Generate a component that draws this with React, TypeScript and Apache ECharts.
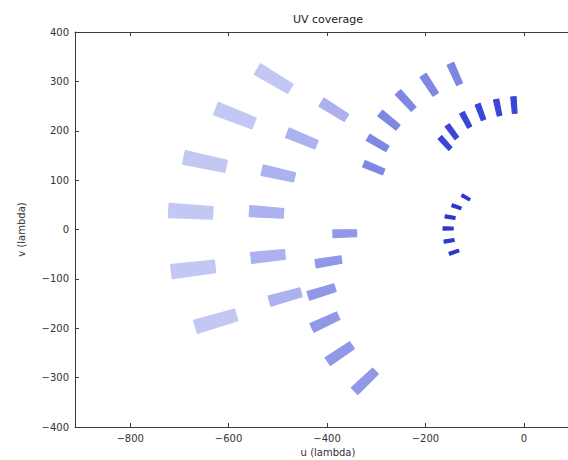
import React, { useEffect, useRef } from "react";
import * as echarts from "echarts";

// tick values
const xTicks = [-800, -600, -400, -200, 0];
const yTicks = [-400, -300, -200, -100, 0, 100, 200, 300, 400];

// patch centres [u, v] (lambda) for each baseline track
const track1 = [[-508, 305], [-587, 230], [-648, 137], [-677, 36], [-672, -80], [-626, -185]];
const track2 = [[-386, 242], [-451, 184], [-499, 113], [-523, 35], [-520, -54], [-485, -136]];
const track3 = [[-364, -8], [-397, -65], [-411, -126], [-404, -187], [-374, -251], [-323, -307]];
const track4 = [[-140, 315], [-192, 293], [-240, 261], [-274, 221], [-297, 175], [-305, 125]];
const track5 = [[-20, 252], [-53, 247], [-88, 238], [-118, 222], [-146, 198], [-160, 175]];
const track6 = [[-118, 65], [-137, 46], [-150, 25], [-154, 2], [-152, -23], [-142, -46]];

// fractional bandwidth (radial spread) and angular half width of each snapshot
const BANDWIDTH = 0.066;
const HALF_ANGLE = 0.02;

const tracks = [
  { data: track1, color: "#c3c7f4" },
  { data: track2, color: "#acb1f0" },
  { data: track3, color: "#9098e7" },
  { data: track4, color: "#7f87e3" },
  { data: track5, color: "#3a46d6" },
  { data: track6, color: "#2a38cc" },
];

const fmt = (v: number) => (v < 0 ? "\u2212" + Math.abs(v) : String(v));

export default function App() {
  const ref = useRef<HTMLDivElement>(null);
  useEffect(() => {
    if (!ref.current) return;
    const chart = echarts.init(ref.current, undefined, { renderer: "svg" });
    const font = "DejaVu Sans";
    const axisLine = { show: true, onZero: false, lineStyle: { color: "#3a3a3a", width: 1 } };
    const tick = (vals: number[]) => ({
      show: true,
      inside: true,
      length: 4,
      customValues: vals,
      lineStyle: { color: "#3a3a3a" },
    });
    const renderItem = (params: any, api: any) => {
      const u = api.value(0);
      const v = api.value(1);
      const r = Math.hypot(u, v);
      const th = Math.atan2(v, u);
      const corners = [
        [1 - BANDWIDTH, -HALF_ANGLE],
        [1 + BANDWIDTH, -HALF_ANGLE],
        [1 + BANDWIDTH, HALF_ANGLE],
        [1 - BANDWIDTH, HALF_ANGLE],
      ];
      const points = corners.map(([rf, dt]) =>
        api.coord([r * rf * Math.cos(th + dt), r * rf * Math.sin(th + dt)])
      );
      const color = api.visual("color");
      return {
        type: "polygon",
        shape: { points },
        style: { fill: color, stroke: color, lineWidth: 1.2, lineJoin: "round" },
      };
    };
    chart.setOption({
      animation: false,
      backgroundColor: "#ffffff",
      textStyle: { fontFamily: font },
      graphic: [
        {
          type: "text",
          x: 328,
          y: 19,
          style: {
            text: "UV coverage",
            fontFamily: font,
            fontSize: 11,
            fill: "#222",
            textAlign: "center",
            textVerticalAlign: "middle",
          },
        },
      ],
      grid: {
        left: 75,
        top: 32,
        width: 506,
        height: 395,
        containLabel: false,
        outerBoundsMode: "none",
      },
      xAxis: [
        {
          type: "value",
          min: -912,
          max: 116,
          position: "bottom",
          axisLine,
          axisTick: tick(xTicks),
          axisLabel: {
            customValues: xTicks,
            formatter: fmt,
            color: "#333",
            fontSize: 10,
            margin: 6,
            fontFamily: font,
          },
          splitLine: { show: false },
          name: "u (lambda)",
          nameLocation: "middle",
          nameGap: 19,
          nameTextStyle: { color: "#333", fontSize: 10, fontFamily: font },
        },
        {
          type: "value",
          min: -912,
          max: 116,
          position: "top",
          axisLine,
          axisTick: tick(xTicks),
          axisLabel: { show: false },
          splitLine: { show: false },
        },
      ],
      yAxis: [
        {
          type: "value",
          min: -400,
          max: 400,
          interval: 100,
          position: "left",
          axisLine,
          axisTick: tick(yTicks),
          axisLabel: {
            customValues: yTicks,
            formatter: fmt,
            color: "#333",
            fontSize: 10,
            margin: 6,
            fontFamily: font,
          },
          splitLine: { show: false },
          name: "v (lambda)",
          nameLocation: "middle",
          nameGap: 49,
          nameTextStyle: { color: "#333", fontSize: 10, fontFamily: font },
        },
      ],
      series: tracks.map((t) => ({
        type: "custom",
        xAxisIndex: 0,
        yAxisIndex: 0,
        data: t.data,
        itemStyle: { color: t.color },
        encode: { x: 0, y: 1 },
        renderItem,
        clip: false,
      })),
    });
    return () => chart.dispose();
  }, []);
  return (
    <div
      ref={ref}
      style={{ position: "fixed", left: 0, top: 0, width: 568, height: 460 }}
    />
  );
}
